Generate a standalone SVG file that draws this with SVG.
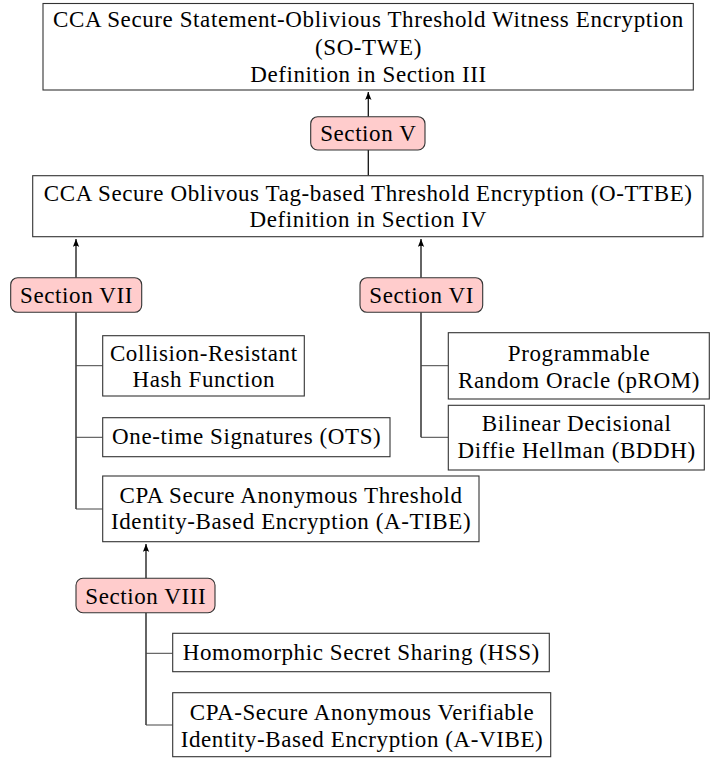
<svg xmlns="http://www.w3.org/2000/svg" width="715" height="758" viewBox="0 0 715 758">
<defs>
<marker id="arr" viewBox="0 0 10 8" refX="10" refY="4" markerWidth="8" markerHeight="7" orient="auto" markerUnits="userSpaceOnUse">
<path d="M0,0 Q3,4 0,8 L10,4 Z" fill="#000"/>
</marker>
<style>
.box{fill:#fff;stroke:#333;stroke-width:1.1}
.sec{fill:#ffcccc;stroke:#333;stroke-width:1.1}
text{font-family:"Liberation Serif","Times New Roman",serif;font-size:23px;letter-spacing:0.6px;fill:#000;text-anchor:middle}
.v{stroke:#111;stroke-width:1.3;fill:none}
.b{stroke:#444;stroke-width:1;fill:none}
</style>
</defs>
<rect width="715" height="758" fill="#fff"/>
<g id="connectors">
<line class="v" x1="368.3" y1="116.7" x2="368.3" y2="92" marker-end="url(#arr)"/>
<line class="v" x1="368.3" y1="150" x2="368.3" y2="175.7"/>
<line class="v" x1="76" y1="277.7" x2="76" y2="239" marker-end="url(#arr)"/>
<line class="v" x1="421" y1="277.7" x2="421" y2="239" marker-end="url(#arr)"/>
<path class="v" d="M76,312.3 V509"/>
<path class="b" d="M76,365.7 H102.7 M76,437.3 H102.7 M76,509 H102.7"/>
<path class="v" d="M421,312.3 V437.3"/>
<path class="b" d="M421,365.7 H448.3 M421,437.3 H448.3"/>
<line class="v" x1="146" y1="578.3" x2="146" y2="544" marker-end="url(#arr)"/>
<path class="v" d="M146,612.7 V725"/>
<path class="b" d="M146,653.3 H172.7 M146,725 H172.7"/>
</g>
<g id="sotwe">
<rect class="box" x="43" y="3.5" width="650.3" height="86.5"/>
<text x="368.5" y="27">CCA Secure Statement-Oblivious Threshold Witness Encryption</text>
<text x="368.5" y="54.5">(SO-TWE)</text>
<text x="368.5" y="82">Definition in Section III</text>
</g>
<g id="sec5">
<rect class="sec" x="310.7" y="116.7" width="114.3" height="33.3" rx="7"/>
<text x="368.3" y="140.5">Section V</text>
</g>
<g id="ottbe">
<rect class="box" x="32.7" y="175.7" width="670.3" height="61"/>
<text x="368.2" y="200.5">CCA Secure Oblivous Tag-based Threshold Encryption (O-TTBE)</text>
<text x="368.2" y="226.5">Definition in Section IV</text>
</g>
<g id="sec7">
<rect class="sec" x="10.7" y="277.7" width="131" height="34.6" rx="7"/>
<text x="76.5" y="303">Section VII</text>
</g>
<g id="sec6">
<rect class="sec" x="360" y="277.7" width="122.7" height="34.6" rx="7"/>
<text x="421.6" y="303">Section VI</text>
</g>
<g id="crhf">
<rect class="box" x="102.7" y="335.7" width="201.6" height="60.3"/>
<text x="203.8" y="360.5">Collision-Resistant</text>
<text x="203.8" y="386.5">Hash Function</text>
</g>
<g id="ots">
<rect class="box" x="102.7" y="417.7" width="287.3" height="39"/>
<text x="246.7" y="444">One-time Signatures (OTS)</text>
</g>
<g id="atibe">
<rect class="box" x="102.7" y="476" width="376.3" height="65.7"/>
<text x="291.1" y="502.5">CPA Secure Anonymous Threshold</text>
<text x="291.1" y="528.5">Identity-Based Encryption (A-TIBE)</text>
</g>
<g id="prom">
<rect class="box" x="448.3" y="332.7" width="261" height="66.3"/>
<text x="579.1" y="360.5">Programmable</text>
<text x="579.1" y="387.5">Random Oracle (pROM)</text>
</g>
<g id="bddh">
<rect class="box" x="448.3" y="405.3" width="256" height="64.7"/>
<text x="576.6" y="430.5">Bilinear Decisional</text>
<text x="576.6" y="457.5">Diffie Hellman (BDDH)</text>
</g>
<g id="sec8">
<rect class="sec" x="76" y="578.3" width="139" height="34.4" rx="7"/>
<text x="145.8" y="603.5">Section VIII</text>
</g>
<g id="hss">
<rect class="box" x="172.7" y="633.3" width="376.6" height="38.4"/>
<text x="361.3" y="659.8">Homomorphic Secret Sharing (HSS)</text>
</g>
<g id="avibe">
<rect class="box" x="172.7" y="692.7" width="378" height="64"/>
<text x="362" y="720">CPA-Secure Anonymous Verifiable</text>
<text x="362" y="747">Identity-Based Encryption (A-VIBE)</text>
</g>
</svg>
